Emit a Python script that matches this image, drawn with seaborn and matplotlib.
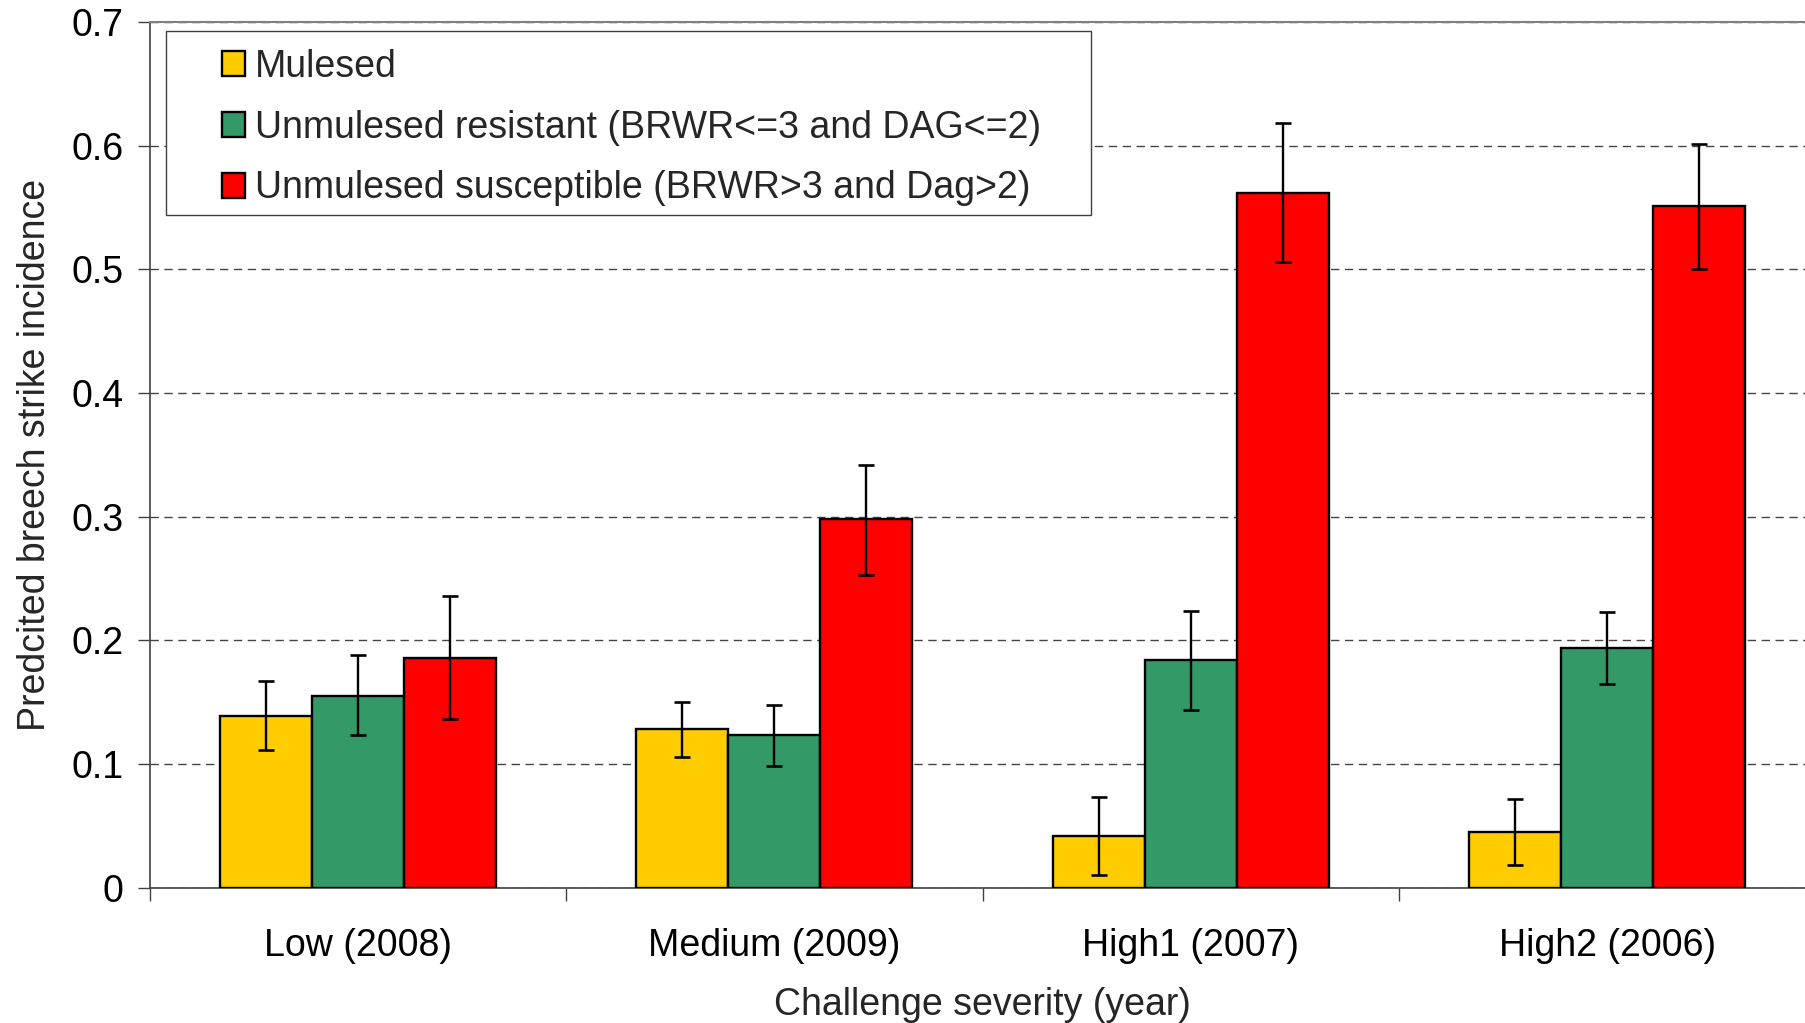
import numpy as np
import pandas as pd
import matplotlib
matplotlib.use("Agg")
import matplotlib.pyplot as plt
from matplotlib.patches import Rectangle
import seaborn as sns

categories = ["Low (2008)", "Medium (2009)", "High1 (2007)", "High2 (2006)"]
groups = ["Mulesed",
          "Unmulesed resistant (BRWR<=3 and DAG<=2)",
          "Unmulesed susceptible (BRWR>3 and Dag>2)"]
mulesed = [0.139, 0.128, 0.042, 0.045]
mulesed_lo = [0.111, 0.106, 0.010, 0.018]
mulesed_hi = [0.167, 0.150, 0.073, 0.072]
resistant = [0.155, 0.123, 0.184, 0.194]
resistant_lo = [0.123, 0.098, 0.144, 0.165]
resistant_hi = [0.188, 0.148, 0.224, 0.223]
susceptible = [0.186, 0.298, 0.562, 0.551]
susceptible_lo = [0.136, 0.253, 0.506, 0.500]
susceptible_hi = [0.236, 0.342, 0.618, 0.601]
colors = ["#FFCC00", "#339966", "#FF0000"]
y_ticks = [0, 0.1, 0.2, 0.3, 0.4, 0.5, 0.6, 0.7]
y_tick_labels = ["0", "0.1", "0.2", "0.3", "0.4", "0.5", "0.6", "0.7"]

vals = [mulesed, resistant, susceptible]
los = [mulesed_lo, resistant_lo, susceptible_lo]
his = [mulesed_hi, resistant_hi, susceptible_hi]

rows = []
for g, v in zip(groups, vals):
    for c, x in zip(categories, v):
        rows.append({"cat": c, "grp": g, "val": x})
df = pd.DataFrame(rows)

sns.set_theme(style="white")
plt.rcParams["font.family"] = ["Liberation Sans", "DejaVu Sans"]

W, H = 1805, 1023
fig = plt.figure(figsize=(W / 100, H / 100), dpi=100)
ax = fig.add_axes([149.7 / W, 1 - 887.6 / H, (1815.6 - 149.7) / W, (887.6 - 21.9) / H])

sns.barplot(data=df, x="cat", y="val", hue="grp", order=categories, hue_order=groups,
            palette=colors, saturation=1, width=0.663, gap=0, errorbar=None,
            edgecolor="black", linewidth=1.7, ax=ax, zorder=3)

ncat = len(categories)
for gi, g in enumerate(groups):
    bars = ax.patches[gi * ncat:(gi + 1) * ncat]
    xs = [b.get_x() + b.get_width() / 2 for b in bars]
    v = np.array(vals[gi]); lo = np.array(los[gi]); hi = np.array(his[gi])
    ax.errorbar(xs, v, yerr=[v - lo, hi - v], fmt="none", ecolor="black",
                elinewidth=1.7, capsize=6, capthick=1.9, zorder=4)

ax.set_xlim(-0.5, ncat - 0.5)
ax.set_ylim(0, 0.7)
ax.set_yticks(y_ticks)
ax.set_yticklabels(y_tick_labels)
ax.yaxis.grid(True, linestyle=(0, (6, 4)), color="#444444", linewidth=1.0, zorder=0)
ax.xaxis.grid(False)
ax.set_axisbelow(True)

ax.set_xticks(range(ncat))
ax.set_xticklabels(categories)
ax.set_xticks(np.arange(-0.5, ncat, 1.0), minor=True)
ax.tick_params(axis="x", which="major", length=0, pad=29, labelsize=27, colors="black")
ax.tick_params(axis="x", which="minor", length=9, width=1, color="#404040", bottom=True)
ax.tick_params(axis="y", which="major", length=9, width=1, color="#404040", left=True,
               pad=10, labelsize=27, labelcolor="black")

for s in ["left", "bottom"]:
    ax.spines[s].set_color("#404040")
    ax.spines[s].set_linewidth(1.2)
ax.spines["top"].set_color("#808080")
ax.spines["top"].set_linewidth(1.5)
ax.spines["right"].set_visible(False)

ax.set_xlabel("Challenge severity (year)", fontsize=27, labelpad=17)
ax.set_ylabel("Predcited breech strike incidence", fontsize=27, labelpad=13)

# legend frame (reference box position)
frame = Rectangle((165.8 / W, 1 - 215.3 / H), (1091.3 - 165.8) / W, (215.3 - 31.1) / H,
                  transform=fig.transFigure, facecolor="white", edgecolor="#404040",
                  linewidth=1.0, zorder=5, clip_on=False)
ax.add_patch(frame)

handles, labels = ax.get_legend_handles_labels()
leg = ax.legend(handles, labels, loc="upper left",
                bbox_to_anchor=(222 / W, 1 - 49 / H), bbox_transform=fig.transFigure,
                fontsize=27, frameon=False,
                handlelength=0.62, handleheight=0.65, handletextpad=0.25,
                labelspacing=0.66, borderpad=0, borderaxespad=0)
leg.set_zorder(6)
for h in leg.legend_handles:
    h.set_edgecolor("black")
    h.set_linewidth(1.7)

fig.savefig("out.png", dpi=100)
